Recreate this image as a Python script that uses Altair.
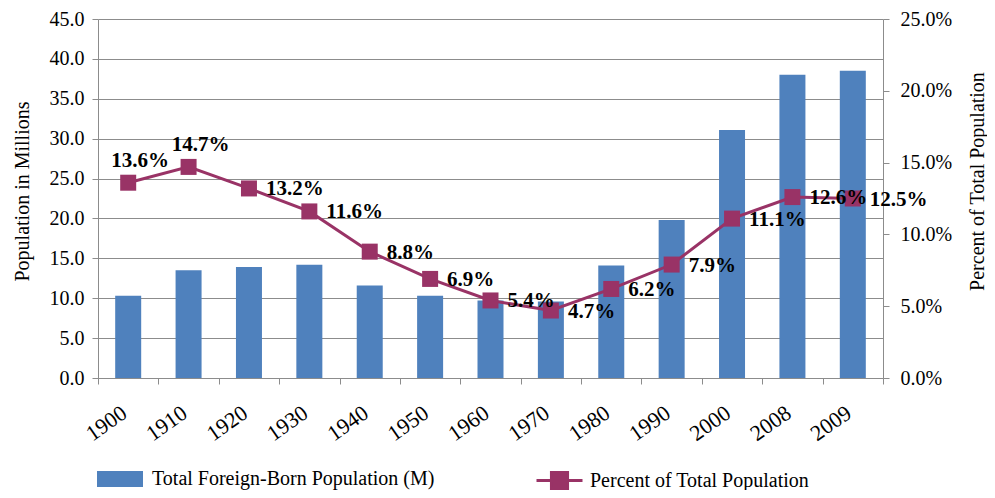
import altair as alt
import pandas as pd

years = ["1900", "1910", "1920", "1930", "1940", "1950", "1960",
         "1970", "1980", "1990", "2000", "2008", "2009"]
foreign_born_millions = [10.3, 13.5, 13.9, 14.2, 11.6, 10.3, 9.7,
                         9.6, 14.1, 19.8, 31.1, 38.0, 38.5]
percent_of_total = [13.6, 14.7, 13.2, 11.6, 8.8, 6.9, 5.4,
                    4.7, 6.2, 7.9, 11.1, 12.6, 12.5]
bar_series = "Total Foreign-Born Population (M)"
line_series = "Percent of Total Population"
left_ticks = [0, 5, 10, 15, 20, 25, 30, 35, 40, 45]
right_ticks = [0, 5, 10, 15, 20, 25]
labels_above = ["1900", "1910"]

df = pd.DataFrame({
    "year": years,
    "pop": foreign_born_millions,
    "pct": percent_of_total,
    "bar_series": bar_series,
    "line_series": line_series,
})

FONT = "Liberation Serif"
GRID = "#8c8c8c"
BLUE = "#4F81BD"
PLUM = "#993366"

rect_sym = "M-1,-0.35L1,-0.35L1,0.35L-1,0.35Z"
line_sym = "M-1,0L1,0M-0.35,-0.35L0.35,-0.35L0.35,0.35L-0.35,0.35Z"

x_enc = alt.X(
    "year:O", sort=None, title=None,
    scale=alt.Scale(type="band", paddingInner=0, paddingOuter=0),
    axis=alt.Axis(labelAngle=325, labelAlign="right", labelBaseline="top",
                  labelPadding=18, labelOffset=-10, tickBand="extent",
                  tickSize=6, tickColor=GRID, domainColor=GRID,
                  labelFont=FONT, labelFontSize=22, labelColor="black",
                  grid=False),
)

y_left = alt.Y(
    "pop:Q", scale=alt.Scale(domain=[0, 45], nice=False),
    axis=alt.Axis(values=left_ticks, format=".1f", title="Population in Millions",
                  titleX=-76, titleY=172, titleAngle=270, titleBaseline="middle",
                  titleFont=FONT, titleFontSize=20, titleFontWeight="normal",
                  titleColor="black", labelFont=FONT, labelFontSize=20,
                  labelColor="black", labelPadding=8, tickSize=6,
                  tickColor=GRID, domainColor=GRID, grid=True, gridColor=GRID),
)

y_right = alt.Y(
    "pct:Q", scale=alt.Scale(domain=[0, 25], nice=False),
    axis=alt.Axis(orient="right", values=right_ticks,
                  labelExpr="format(datum.value, '.1f') + '%'",
                  title="Percent of Total Population",
                  titleX=94, titleY=162, titleAngle=270, titleBaseline="middle",
                  titleFont=FONT, titleFontSize=20, titleFontWeight="normal",
                  titleColor="black", labelFont=FONT, labelFontSize=20,
                  labelColor="black", labelPadding=11, tickSize=6,
                  tickColor=GRID, domainColor=GRID, grid=False),
)

base = alt.Chart(df)

bars = base.mark_bar(size=26).encode(
    x=x_enc, y=y_left,
    color=alt.Color("bar_series:N", scale=alt.Scale(range=[BLUE]),
                    legend=alt.Legend(orient="none", legendX=-1, legendY=437,
                                      title=None, symbolType=rect_sym,
                                      symbolSize=2116, symbolStrokeWidth=0,
                                      labelFont=FONT, labelFontSize=20,
                                      labelColor="black", labelOffset=9,
                                      labelLimit=600, padding=0)),
)

line = base.mark_line(color=PLUM, strokeWidth=3).encode(x=x_enc, y=y_right)

points = base.mark_point(shape="square", size=256, filled=True, opacity=1).encode(
    x=x_enc, y=y_right,
    color=alt.Color("line_series:N", scale=alt.Scale(range=[PLUM]),
                    legend=alt.Legend(orient="none", legendX=437, legendY=437,
                                      title=None, symbolType=line_sym,
                                      symbolSize=2116, symbolStrokeWidth=3,
                                      symbolStrokeColor=PLUM,
                                      symbolFillColor=PLUM,
                                      labelFont=FONT, labelFontSize=20,
                                      labelColor="black", labelOffset=6,
                                      labelLimit=600, padding=0)),
)

text_style = dict(font=FONT, fontSize=21, fontWeight="bold", color="black")

labels_right = base.transform_filter(
    ~alt.FieldOneOfPredicate(field="year", oneOf=labels_above)
).transform_calculate(lbl="format(datum.pct, '.1f') + '%'").mark_text(
    align="left", baseline="middle", dx=17, dy=1, **text_style
).encode(x=x_enc, y=y_right, text="lbl:N")

labels_top = base.transform_filter(
    alt.FieldOneOfPredicate(field="year", oneOf=labels_above)
).transform_calculate(lbl="format(datum.pct, '.1f') + '%'").mark_text(
    align="center", baseline="middle", dx=12, dy=-22, **text_style
).encode(x=x_enc, y=y_right, text="lbl:N")

right_layer = alt.layer(line, points, labels_right, labels_top)

chart = alt.layer(bars, right_layer).resolve_scale(
    y="independent", color="independent"
).properties(
    width=785, height=359,
    autosize=alt.AutoSizeParams(type="none"),
    padding={"left": 90, "top": 11, "right": 104, "bottom": 112},
    background="white",
).configure_view(stroke=None).configure_legend(
    labelFont=FONT, labelFontSize=20, labelColor="black", labelLimit=600
)

chart.save("out.html", embed_options={"renderer": "svg", "actions": False})
